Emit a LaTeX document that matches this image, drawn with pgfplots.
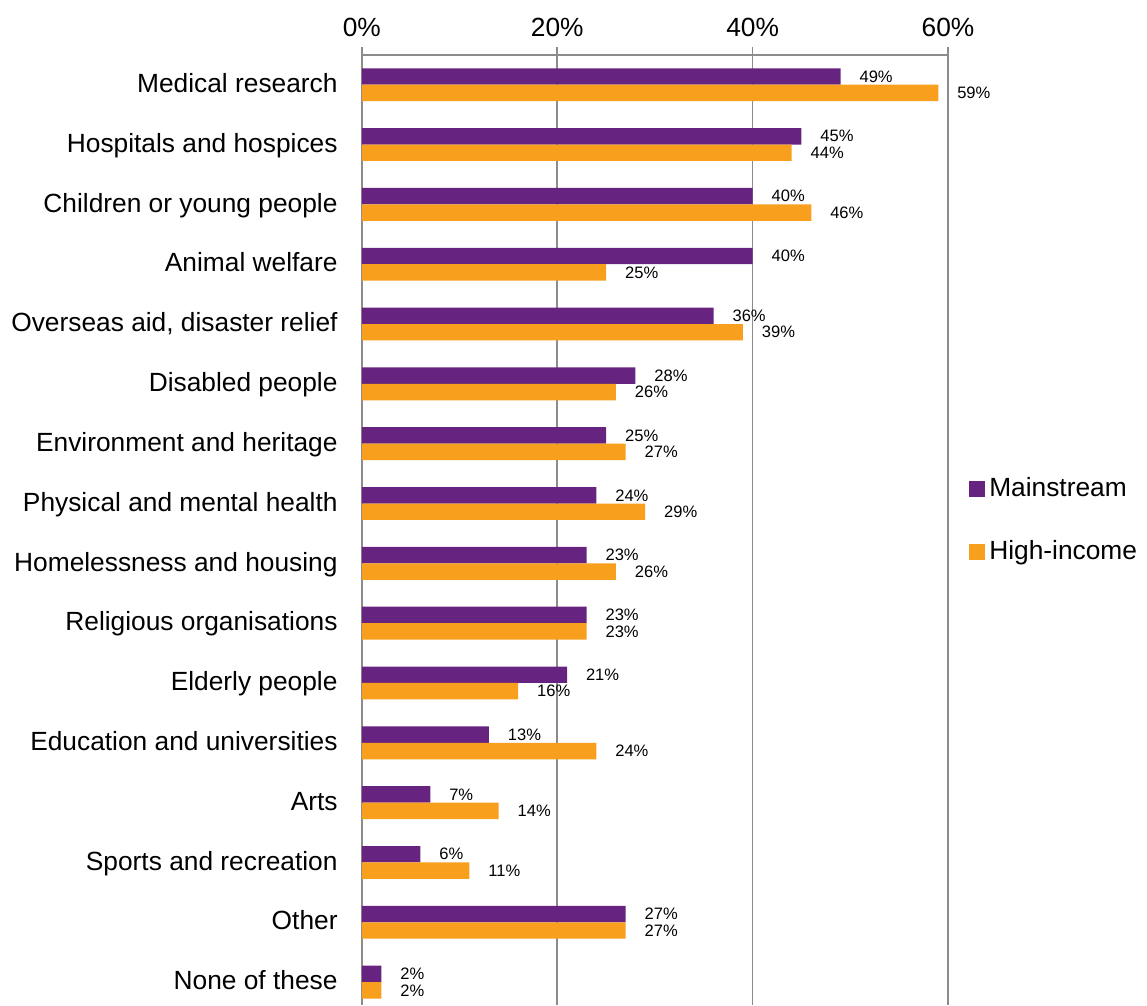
\documentclass[border=0pt]{standalone}
\usepackage{pgfplots}
\pgfplotsset{compat=1.18}
\usepackage{fontspec}
\setmainfont{Liberation Sans}
\definecolor{mpurple}{RGB}{102,36,128}
\definecolor{morange}{RGB}{248,160,30}
\definecolor{axgray}{RGB}{140,140,140}
\begin{document}
\begin{tikzpicture}
\begin{axis}[
    xbar,
    scale only axis,
    width=294pt,
    height=476.5pt,
    xmin=0, xmax=60,
    ymin=-0.38, ymax=15.5,
    axis x line*=top,
    axis y line*=left,
    axis line style={axgray, line width=0.8pt},
    xtick={0,20,40,60},
    xticklabel={\pgfmathprintnumber{\tick}\%},
    /pgf/number format/assume math mode=true,
    xmajorgrids=true,
    grid style={axgray, line width=0.8pt},
    tick align=outside,
    major tick length=4pt,
    minor tick length=4pt,
    tick style={axgray, line width=0.8pt},
    ytick={0,...,15},
    yticklabels={None of these, Other, Sports and recreation, Arts,
        Education and universities, Elderly people, Religious organisations,
        Homelessness and housing, Physical and mental health,
        Environment and heritage, Disabled people, {Overseas aid, disaster relief},
        Animal welfare, Children or young people, Hospitals and hospices,
        Medical research},
    ytick style={draw=none},
    minor ytick={-0.5,0.5,...,15.5},
    tick label style={font=\fontsize{13.2}{15}\selectfont},
    yticklabel style={inner sep=0pt, anchor=base east, xshift=-8pt, yshift=-3.85pt},
    xticklabel style={yshift=1.5pt},
    bar width=8.25pt,
    nodes near coords={\pgfmathprintnumber{\pgfplotspointmeta}\%},
    nodes near coords style={font=\fontsize{8.3}{10}\selectfont, anchor=west, xshift=6pt},
    legend style={at={(1,0.51)}, anchor=west, xshift=7.5pt, draw=none, fill=none,
        font=\fontsize{13.2}{15}\selectfont, row sep=16.5pt},
    legend cell align=left,
    legend image code/.code={\fill[#1] (0pt,-4pt) rectangle (8pt,4pt);},
]
% Mainstream
\addplot[fill=mpurple, draw=none, bar shift=4.125pt] coordinates {
    (49,15) (45,14) (40,13) (40,12) (36,11) (28,10) (25,9) (24,8)
    (23,7) (23,6) (21,5) (13,4) (7,3) (6,2) (27,1) (2,0)
};
% High-income
\addplot[fill=morange, draw=none, bar shift=-4.125pt] coordinates {
    (59,15) (44,14) (46,13) (25,12) (39,11) (26,10) (27,9) (29,8)
    (26,7) (23,6) (16,5) (24,4) (14,3) (11,2) (27,1) (2,0)
};
\legend{Mainstream, High-income}
\end{axis}
\path (current axis.south west) ++(-181.5pt,0pt) (current axis.north west) ++(392pt,27.5pt);
\end{tikzpicture}
\end{document}
